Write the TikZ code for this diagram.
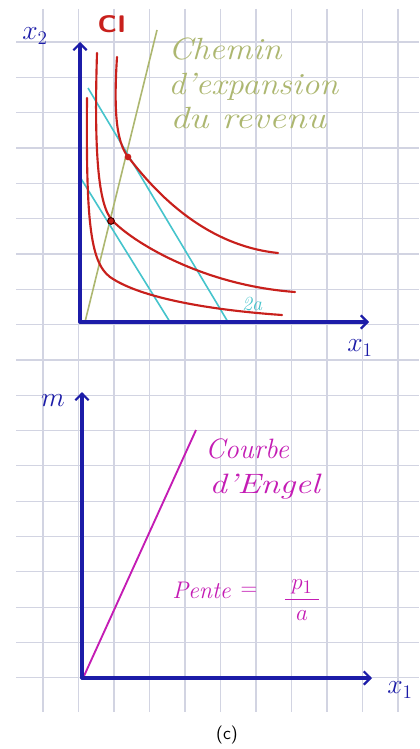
\documentclass[tikz,border=0pt]{standalone}
\usetikzlibrary{arrows.meta}
\definecolor{gridc}{HTML}{D2D4E2}
\definecolor{axisblue}{HTML}{1C1CA8}
\definecolor{cired}{HTML}{C8201C}
\definecolor{budget}{HTML}{45C4CC}
\definecolor{olive}{HTML}{ADB770}
\definecolor{engel}{HTML}{C41CB4}
\begin{document}
\begin{tikzpicture}[x=0.75pt,y=-0.75pt,
  axis/.style={axisblue,line width=2.3pt,line cap=round,-{Straight Barb[length=5pt,width=10pt,line width=1.6pt]}},
  gridline/.style={gridc,line width=0.8pt},
  icurve/.style={cired,line width=1.6pt,line cap=round},
  bline/.style={budget,line width=1.2pt},
  pathline/.style={olive,line width=1.2pt},
  engelline/.style={engel,line width=1.4pt},
  axlabel/.style={axisblue,font=\fontsize{22}{24}\selectfont\bfseries},
  hand/.style={font=\fontsize{23}{26}\selectfont\itshape, inner sep=0pt, anchor=base west}]
\useasboundingbox (0,0) rectangle (419,749);
\fill[white] (0,0) rectangle (419,749);
% grid
\begin{scope}
\clip (16,9) rectangle (419,712);
\foreach \i in {0,...,10} \draw[gridline] ({43+35.5*\i},9) -- ({43+35.5*\i},712);
\foreach \j in {0,...,19} \draw[gridline] (16,{42+35.33*\j}) -- (419,{42+35.33*\j});
\end{scope}

% ---------- top graph ----------
\coordinate (O1) at (80,322);
\coordinate (Y1) at (80,42);
\coordinate (X1) at (369,322);
% expansion path
\coordinate (E0) at (85,322);
\coordinate (E1) at (157,30);
\draw[pathline] (E0) -- (E1);
% budget lines
\coordinate (B1a) at (88,88);
\coordinate (B1b) at (228,322);
\coordinate (B2a) at (80,177);
\coordinate (B2b) at (170,322);
\draw[bline] (B1a) -- (B1b);
\draw[bline] (B2a) -- (B2b);
% indifference curves
\draw[icurve] (87,98) .. controls (86,220) and (90,262) .. (110,277)
              .. controls (140,298) and (210,310) .. (282,315);
\draw[icurve] (97,53) .. controls (94,150) and (98,205) .. (112,220)
              .. controls (130,240) and (200,285) .. (295,292);
\draw[icurve] (117,57) .. controls (113,120) and (118,145) .. (129,158)
              .. controls (150,185) and (200,245) .. (278,253);
% optimum points
\node[circle,fill=cired,inner sep=0pt,minimum size=5pt] (P1) at (128,157) {};
\node[circle,fill=cired,draw=black!70!red,line width=0.8pt,inner sep=0pt,minimum size=5pt] (P2) at (111,221) {};
% axes
\draw[axis] (O1) -- (Y1);
\draw[axis] (O1) -- (X1);
% labels
\node[axlabel] (lx2) at (35,36) {$x_2$};
\node[cired,font=\fontsize{18}{20}\selectfont\sffamily\bfseries] (lci) at (112,24) {\scalebox{1.15}[1]{CI}};
\node[axlabel] (lx1) at (360,348) {$x_1$};
\node[budget,font=\fontsize{15}{17}\selectfont\itshape] (lR) at (252,304) {2a};
\node[olive,hand] (t1) at (168,60) {\scalebox{1.12}[1]{Chemin}};
\node[olive,hand] (t2) at (168,94) {\scalebox{1.12}[1]{d'expansion}};
\node[olive,hand] (t3) at (170,128) {\scalebox{1.22}[1]{du revenu}};

% ---------- bottom graph ----------
\coordinate (O2) at (82,678);
\coordinate (Y2) at (82,392);
\coordinate (X2) at (372,678);
\coordinate (G1) at (84,676);
\coordinate (G2) at (196,430);
\draw[engelline] (G1) -- (G2);
\draw[axis] (O2) -- (Y2);
\draw[axis] (O2) -- (X2);
\node[axlabel] (lm) at (53,401) {$m$};
\node[axlabel] (lx1b) at (400,690) {$x_1$};
\node[engel,hand,font=\fontsize{21}{24}\selectfont\itshape] (c1) at (205,458) {Courbe};
\node[engel,hand,font=\fontsize{21}{24}\selectfont\itshape] (c2) at (209,493) {\scalebox{1.25}[1]{d'Engel}};
\node[engel,hand,font=\fontsize{18}{22}\selectfont\itshape] (pente) at (172,598) {Pente};
\node[engel,font=\fontsize{18}{22}\selectfont] (eq) at (249,591) {$=$};
\node[engel,font=\fontsize{19}{22}\selectfont] (frac) at (302,600) {$\displaystyle\frac{\;p_1\;}{a}$};
\node[black,font=\fontsize{13.5}{16}\selectfont\sffamily] (cap) at (227,735) {(c)};
\end{tikzpicture}
\end{document}
